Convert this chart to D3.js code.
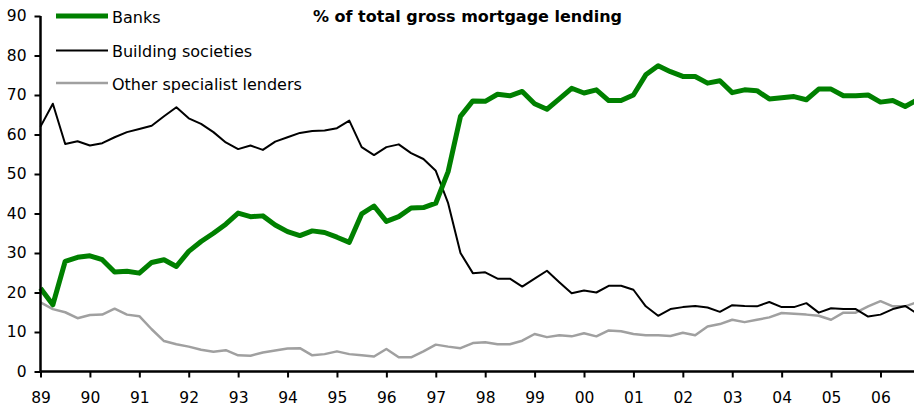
<!DOCTYPE html>
<html>
<head>
<meta charset="utf-8">
<script src="https://cdn.jsdelivr.net/npm/d3@7/dist/d3.min.js"></script>
<style>
  html, body { margin: 0; padding: 0; background: #fff; }
  svg { display: block; }
  text { font-family: "DejaVu Sans", Verdana, sans-serif; fill: #000; }
</style>
</head>
<body>
<svg id="chart" width="914" height="410"></svg>
<script>
// Quarterly share of gross mortgage lending, 1989 Q1 onwards
const firstYear = 1989;
const quarters = d3.range(72).map(i => `${firstYear + Math.floor(i / 4)}Q${(i % 4) + 1}`);

const banks = [
  21.1, 16.9, 27.9, 28.9, 29.3, 28.3, 25.2, 25.4, 24.9, 27.6, 28.3, 26.6,
  30.4, 32.9, 35.0, 37.3, 40.1, 39.2, 39.4, 37.1, 35.4, 34.4, 35.6, 35.2,
  34.0, 32.7, 39.9, 41.9, 38.0, 39.2, 41.4, 41.5, 42.6, 50.6, 64.6, 68.5,
  68.4, 70.2, 69.8, 70.9, 67.8, 66.4, 69.0, 71.7, 70.5, 71.3, 68.6, 68.6,
  70.0, 75.1, 77.4, 75.9, 74.7, 74.7, 73.0, 73.6, 70.6, 71.3, 71.1, 69.0,
  69.3, 69.6, 68.8, 71.5, 71.5, 69.8, 69.8, 70.0, 68.2, 68.6, 67.1, 68.8
];

const buildingSocieties = [
  62.0, 67.8, 57.6, 58.3, 57.2, 57.8, 59.3, 60.6, 61.4, 62.2, 64.6, 66.9,
  64.1, 62.7, 60.6, 58.0, 56.3, 57.2, 56.1, 58.2, 59.3, 60.4, 60.9, 61.0,
  61.6, 63.5, 56.8, 54.8, 56.8, 57.5, 55.3, 53.8, 50.8, 42.6, 30.0, 24.9,
  25.1, 23.5, 23.5, 21.5, 23.5, 25.5, 22.6, 19.8, 20.5, 20.0, 21.7, 21.7,
  20.7, 16.5, 14.1, 15.8, 16.3, 16.6, 16.2, 15.1, 16.8, 16.6, 16.5, 17.6,
  16.3, 16.3, 17.3, 14.9, 16.0, 15.8, 15.8, 13.9, 14.4, 15.8, 16.6, 14.6
];

const otherSpecialist = [
  17.5, 15.8, 15.0, 13.5, 14.3, 14.4, 15.9, 14.4, 14.0, 10.7, 7.7, 6.9,
  6.3, 5.5, 5.0, 5.4, 4.1, 4.0, 4.8, 5.3, 5.8, 5.9, 4.1, 4.4,
  5.1, 4.4, 4.1, 3.8, 5.7, 3.6, 3.6, 5.1, 6.8, 6.3, 5.9, 7.2,
  7.4, 6.9, 6.9, 7.8, 9.5, 8.7, 9.2, 8.9, 9.7, 8.9, 10.4, 10.2,
  9.5, 9.2, 9.2, 9.0, 9.8, 9.2, 11.4, 12.0, 13.1, 12.5, 13.1, 13.7,
  14.8, 14.6, 14.4, 14.1, 13.1, 14.9, 14.9, 16.5, 17.8, 16.5, 16.5, 17.6
];

const yearTicks = d3.range(1989, 2007);
const yTicks = d3.range(0, 91, 10);

const series = [
  { name: "Banks", values: banks, color: "#008000", width: 5 },
  { name: "Building societies", values: buildingSocieties, color: "#000000", width: 2 },
  { name: "Other specialist lenders", values: otherSpecialist, color: "#a0a0a0", width: 2.5 }
];

const svg = d3.select("#chart");
const W = 914;
const plotLeft = 40.5, plotRight = W, plotTop = 16, plotBottom = 371.5;

// the axis runs slightly past 2006 Q3
const x = d3.scaleLinear()
  .domain([firstYear, firstYear + (plotRight - plotLeft) / 49.41])
  .range([plotLeft, plotRight]);
const y = d3.scaleLinear().domain([0, 90]).range([plotBottom, plotTop]);
const xOf = i => x(firstYear + i / 4);

// data lines, thin ones first so the thick bank line sits on top
const line = vals => d3.line().x((d, i) => xOf(i)).y(d => y(d))(vals);
[series[2], series[1], series[0]].forEach(s => {
  svg.append("path")
    .attr("d", line(s.values))
    .attr("fill", "none")
    .attr("stroke", s.color)
    .attr("stroke-width", s.width)
    .attr("stroke-linejoin", "round");
});

// axes
const xAxis = d3.axisBottom(x)
  .tickValues(yearTicks)
  .tickFormat(d => String(d % 100).padStart(2, "0"))
  .tickSize(6).tickPadding(14);
const gx = svg.append("g").attr("transform", `translate(0,${plotBottom})`).call(xAxis);

const yAxis = d3.axisLeft(y).tickValues(yTicks).tickSize(6).tickPadding(8);
const gy = svg.append("g").attr("transform", `translate(${plotLeft},0)`).call(yAxis);

[gx, gy].forEach(g => {
  g.select(".domain").attr("stroke", "#000").attr("stroke-width", 2.5);
  g.selectAll(".tick line").attr("stroke", "#000").attr("stroke-width", 2);
  g.selectAll(".tick text")
    .attr("font-family", "DejaVu Sans, Verdana, sans-serif")
    .attr("font-size", 15.5).attr("fill", "#000");
});
gx.select(".domain").attr("d", `M${plotLeft},0H${plotRight}`);
gy.select(".domain").attr("d", `M0,${plotBottom}V${plotTop}`);

// title
svg.append("text")
  .attr("x", 467.5).attr("y", 21.5)
  .attr("text-anchor", "middle")
  .attr("font-size", 16).attr("font-weight", "bold")
  .text("% of total gross mortgage lending");

// legend
const legendY = [16, 50.5, 83];
series.forEach((s, k) => {
  svg.append("line")
    .attr("x1", 56).attr("x2", 108)
    .attr("y1", legendY[k]).attr("y2", legendY[k])
    .attr("stroke", s.color).attr("stroke-width", s.width);
  svg.append("text")
    .attr("x", 112).attr("y", legendY[k] + 6.5)
    .attr("font-size", 16)
    .text(s.name);
});
</script>
</body>
</html>
